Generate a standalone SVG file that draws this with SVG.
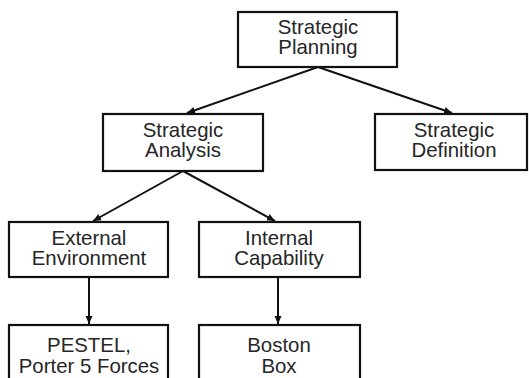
<svg xmlns="http://www.w3.org/2000/svg" width="529" height="378" viewBox="0 0 529 378">
  <style>
    .box { fill: #ffffff; stroke: #111111; stroke-width: 2.2; }
    .lbl { font-family: "Liberation Sans", Arial, sans-serif; font-size: 20.4px; fill: #262626; text-anchor: middle; }
    .edge { stroke: #111111; stroke-width: 2; fill: none; marker-end: url(#arrow); }
  </style>
  <defs>
    <marker id="arrow" markerUnits="userSpaceOnUse" markerWidth="10" markerHeight="10" refX="8" refY="4" orient="auto">
      <path d="M0,0.5 L8,4 L0,7.5 z" fill="#111111"/>
    </marker>
  </defs>
  <rect width="529" height="378" fill="#ffffff"/>
  <g id="connectors">
    <line class="edge" x1="318" y1="67" x2="187" y2="113"/>
    <line class="edge" x1="318" y1="67" x2="452" y2="113"/>
    <line class="edge" x1="183" y1="171" x2="93" y2="221"/>
    <line class="edge" x1="183" y1="171" x2="275" y2="221"/>
    <line class="edge" x1="89" y1="277" x2="89" y2="324"/>
    <line class="edge" x1="278" y1="277" x2="278" y2="324"/>
  </g>
  <g id="strategic-planning">
    <rect class="box" x="238" y="12" width="159" height="55"/>
    <text class="lbl" x="318" y="34">Strategic</text>
    <text class="lbl" x="318" y="54">Planning</text>
  </g>
  <g id="strategic-analysis">
    <rect class="box" x="103" y="114" width="160" height="57"/>
    <text class="lbl" x="183" y="137">Strategic</text>
    <text class="lbl" x="183" y="157">Analysis</text>
  </g>
  <g id="strategic-definition">
    <rect class="box" x="375" y="114" width="152" height="56"/>
    <text class="lbl" x="454" y="137">Strategic</text>
    <text class="lbl" x="454" y="157">Definition</text>
  </g>
  <g id="external-environment">
    <rect class="box" x="9" y="222" width="159" height="55"/>
    <text class="lbl" x="89" y="245">External</text>
    <text class="lbl" x="89" y="265">Environment</text>
  </g>
  <g id="internal-capability">
    <rect class="box" x="199" y="222" width="161" height="55"/>
    <text class="lbl" x="279" y="245">Internal</text>
    <text class="lbl" x="279" y="265">Capability</text>
  </g>
  <g id="pestel">
    <rect class="box" x="9" y="325" width="159" height="60"/>
    <text class="lbl" x="89" y="352">PESTEL,</text>
    <text class="lbl" x="89" y="373">Porter 5 Forces</text>
  </g>
  <g id="boston-box">
    <rect class="box" x="199" y="325" width="161" height="60"/>
    <text class="lbl" x="279" y="352">Boston</text>
    <text class="lbl" x="279" y="373">Box</text>
  </g>
</svg>
